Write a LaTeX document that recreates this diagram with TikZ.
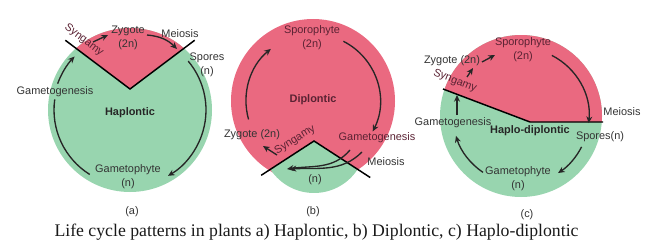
\documentclass[tikz,border=0pt]{standalone}
\usepackage{fontspec}
\setmainfont{Liberation Serif}
\setsansfont{Liberation Sans}
\usepackage{tikz}
\usetikzlibrary{arrows.meta,calc}
\definecolor{LCpink}{HTML}{EA6980}
\definecolor{LCgreen}{HTML}{98D5AF}
\definecolor{LCtext}{HTML}{333333}
\definecolor{LCmaroon}{HTML}{5A2233}
\tikzset{
  lbl/.style={font=\sffamily\fontsize{8.2}{10.5}\selectfont,text=LCtext,align=center,inner sep=1pt},
  lblp/.style={lbl,text=LCmaroon},
  cyclename/.style={font=\sffamily\bfseries\fontsize{8.2}{10}\selectfont,text=black!85,inner sep=1pt},
  arr/.style={-{Stealth[length=5pt,width=4.5pt]},line width=1pt,black!85},
  cyc/.style={line width=1pt,black!85},
  divide/.style={line width=1.1pt,black}
}

\begin{document}
\begin{tikzpicture}[x=0.75pt,y=0.75pt]
\useasboundingbox (0,0) rectangle (649,247);
% (a) haplontic
\coordinate (ca) at (130,137);
\coordinate (va) at (130,158);
\fill[LCgreen] (ca) circle[radius=82];
\begin{scope}
  \clip (ca) circle[radius=82];
  \fill[LCpink] (va) -- ($(va)+(143:130)$) -- ($(va)+(90:130)$) -- ($(va)+(37:130)$) -- cycle;
\end{scope}
\draw[divide] ($(va)+(143:81)$) -- (va) -- ($(va)+(37:81)$);
\node[lblp,rotate=-37] (syna) at (84,207) {Syngamy};
\node[lbl] (zyga) at (128,209) {Zygote\\(2n)};
\node[lbl] (meia) at (180,213) {Meiosis};
\node[lbl] (spoa) at (207,182) {Spores\\(n)};
\node[lbl] (gena) at (55,155) {Gametogenesis};
\node[cyclename] (hap) at (130,134) {Haplontic};
\node[lbl] (gpha) at (128,70) {Gametophyte\\(n)};
\node[lbl] (la) at (132,35) {(a)};
\coordinate (sa1) at (93,205); \coordinate (sa2) at (108,212);
\coordinate (za1) at (147,212); \coordinate (za2) at (177,198);
\draw[arr] (sa1) -- (sa2);
\draw[arr] (za1) to[bend left=20] (za2);
\draw[arr] ($(ca)+(40:76)$) arc[start angle=40,end angle=-60,radius=76];
\draw[cyc] ($(ca)+(238:76)$) arc[start angle=238,end angle=172,radius=76];
\draw[arr] ($(ca)+(160:77)$) arc[start angle=160,end angle=136,radius=77];

% (b) diplontic
\coordinate (cb) at (313,146);
\coordinate (vb) at (314,106);
\fill[LCpink] (cb) circle[radius=82];
\fill[LCgreen] (vb) -- ($(vb)+(213:52)$) arc[start angle=213,end angle=327,radius=52] -- cycle;
\draw[divide] ($(vb)+(213:63)$) -- (vb) -- ($(vb)+(327:67)$);
\node[lblp] (spob) at (312,209) {Sporophyte\\(2n)};
\node[cyclename,text=LCmaroon] (dip) at (313,147) {Diplontic};
\node[lbl] (zygb) at (252,112) {Zygote (2n)};
\node[lblp,rotate=32] (synb) at (295,107) {Syngamy};
\node[lblp] (genb) at (377,109) {Gametogenesis};
\node[lbl] (meib) at (386,85) {Meiosis};
\node[lbl] (nb) at (315,67) {(n)};
\node[lbl] (lb) at (313,35) {(b)};
\coordinate (sb1) at (277,92); \coordinate (sb2) at (263,101);
\coordinate (gb1) at (350,97); \coordinate (gb2) at (362,95);
\coordinate (gb3) at (287,78);
\draw[arr] (sb1) -- (sb2);
\draw[arr] (gb1) to[out=230,in=8] (gb3);
\draw[arr] (gb2) to[out=225,in=3] ([xshift=2]gb3);
\draw[arr] ($(cb)+(63:67)$) arc[start angle=63,end angle=-27,radius=67];
\draw[arr] ($(cb)+(196:67)$) arc[start angle=196,end angle=129,radius=67];

% (c) haplo-diplontic
\coordinate (cc) at (521,131);
\coordinate (dl) at (443,158);
\coordinate (dm) at (530,125);
\coordinate (dr) at (603,125);
\fill[LCgreen] (cc) circle[radius=81];
\begin{scope}
  \clip (cc) circle[radius=81];
  \fill[LCpink] (430,163) -- (dm) -- (610,125) -- (610,220) -- (430,220) -- cycle;
\end{scope}
\draw[divide] (dl) -- (dm) -- (dr);
\node[lbl] (zygc) at (452,186) {Zygote (2n)};
\node[lblp,rotate=-21] (sync) at (455,166) {Syngamy};
\node[lblp] (spoc) at (523,197.5) {Sporophyte\\(2n)};
\node[lbl] (meic) at (622,135) {Meiosis};
\node[lbl] (genc) at (453,124) {Gametogenesis};
\node[cyclename] (hd) at (530,116) {Haplo-diplontic};
\node[lbl] (spc) at (600,110) {Spores(n)};
\node[lbl] (gphc) at (518,68.5) {Gametophyte\\(n)};
\node[lbl] (lc) at (527,32) {(c)};
\coordinate (gc1) at (457,132); \coordinate (gc2) at (457,152);
\coordinate (sc1) at (467,170); \coordinate (sc2) at (473,179);
\coordinate (zc1) at (482,185); \coordinate (zc2) at (495,192);
\draw[arr] (gc1) -- (gc2);
\draw[arr] (sc1) -- (sc2);
\draw[arr] (zc1) -- (zc2);
\draw[arr] ($(cc)+(63:68)$) arc[start angle=63,end angle=-6,radius=68];
\draw[arr] ($(cc)+(-27:68)$) arc[start angle=-27,end angle=-57,radius=68];
\draw[arr] ($(cc)+(236:68)$) arc[start angle=236,end angle=197,radius=68];

\node[font=\fontsize{13.3}{15}\selectfont,text=black!90] (cap) at (316.5,15)
  {Life cycle patterns in plants a) Haplontic, b) Diplontic, c) Haplo-diplontic};
\end{tikzpicture}
\end{document}
